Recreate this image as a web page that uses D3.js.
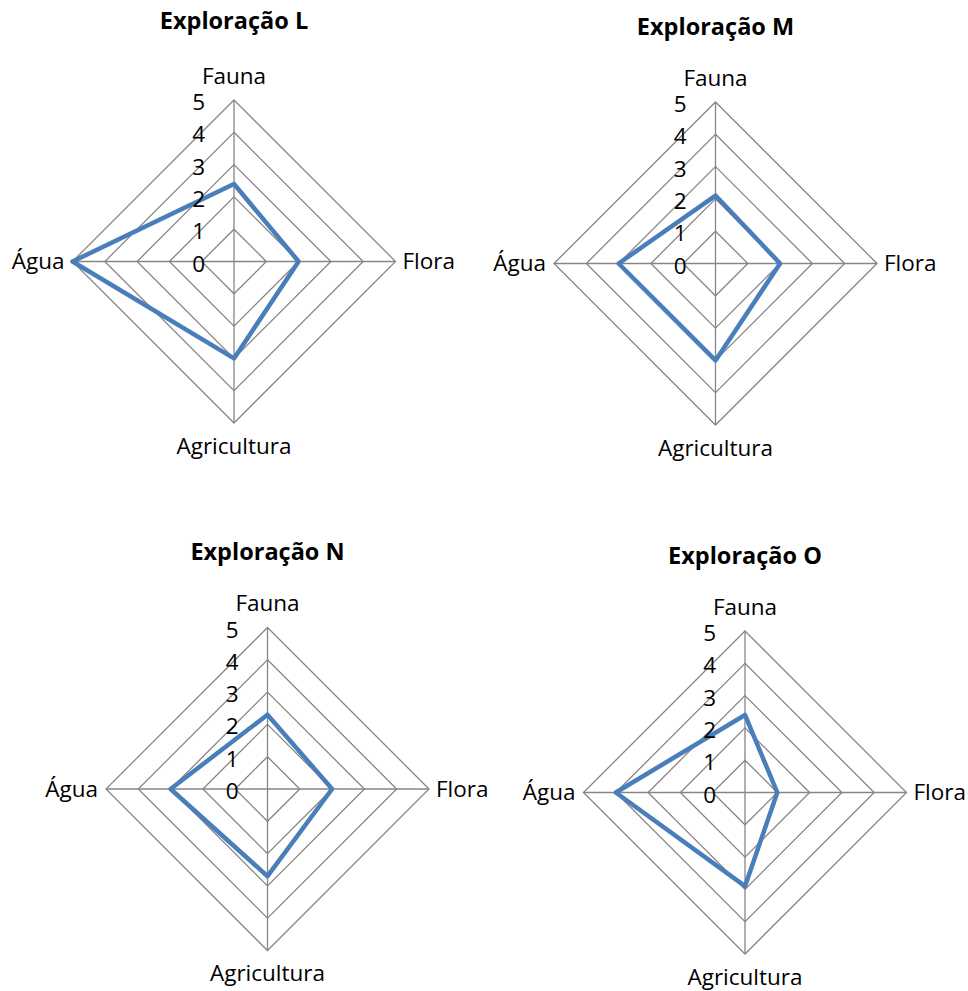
<!DOCTYPE html>
<html>
<head>
<meta charset="utf-8">
<script src="https://cdnjs.cloudflare.com/ajax/libs/d3/7.8.5/d3.min.js"></script>
<style>
  html, body { margin: 0; padding: 0; background: #ffffff; }
  svg { display: block; font-family: "Open Sans", "Noto Sans", sans-serif; }
</style>
</head>
<body>
<svg id="chart" width="968" height="991"></svg>
<script>
// Axes of each radar, clockwise from the top
const categories = ["Fauna", "Flora", "Agricultura", "Água"];
const titles = ["Exploração L", "Exploração M", "Exploração N", "Exploração O"];
const tickValues = [0, 1, 2, 3, 4, 5];

// Scores per exploration, in the order of `categories`
const valuesL = [2.4, 2, 3, 5];
const valuesM = [2.1, 2, 3, 3];
const valuesN = [2.3, 2, 2.7, 3];
const valuesO = [2.4, 1, 2.9, 4];
const seriesValues = [valuesL, valuesM, valuesN, valuesO];

// Panel layout: radar centre and title baseline
const panels = [
  { cx: 234, cy: 261.5, titleY: 29 },
  { cx: 715.5, cy: 263.5, titleY: 35 },
  { cx: 267.5, cy: 789, titleY: 560 },
  { cx: 745, cy: 792.5, titleY: 564 }
];

const R = 161.5;
const gridColor = "#868686";
const lineColor = "#4a7ebb";
const labelSize = 22.5;

const svg = d3.select("#chart");
const r = d3.scaleLinear().domain([0, 5]).range([0, R]);
const angle = d3.scalePoint().domain(categories).range([0, 2 * Math.PI * 3 / 4]);

function pt(cat, v) {
  const a = angle(cat);
  return [r(v) * Math.sin(a), -r(v) * Math.cos(a)];
}

panels.forEach((p, i) => {
  const g = svg.append("g").attr("transform", `translate(${p.cx},${p.cy})`);

  // Title
  svg.append("text")
    .attr("x", p.cx).attr("y", p.titleY)
    .attr("text-anchor", "middle")
    .attr("font-weight", "bold")
    .attr("font-size", 23.5)
    .attr("fill", "#000")
    .text(titles[i]);

  // Concentric rings (diamonds)
  const ring = d3.line().curve(d3.curveLinearClosed);
  g.selectAll("path.ring")
    .data(tickValues.filter(t => t > 0))
    .join("path")
    .attr("class", "ring")
    .attr("d", t => ring(categories.map(c => pt(c, t))))
    .attr("fill", "none")
    .attr("stroke", gridColor)
    .attr("stroke-width", 1.3);

  // Spokes
  g.selectAll("line.spoke")
    .data(categories)
    .join("line")
    .attr("class", "spoke")
    .attr("x1", 0).attr("y1", 0)
    .attr("x2", c => pt(c, 5)[0])
    .attr("y2", c => pt(c, 5)[1])
    .attr("stroke", gridColor)
    .attr("stroke-width", 1.3);

  // Series polygon
  const vals = seriesValues[i];
  const radial = d3.lineRadial()
    .angle((d, j) => angle(categories[j]))
    .radius(d => r(d))
    .curve(d3.curveLinearClosed);
  g.append("path")
    .attr("d", radial(vals))
    .attr("fill", "none")
    .attr("stroke", lineColor)
    .attr("stroke-width", 4.5)
    .attr("stroke-linejoin", "round");

  // Value tick labels along the top spoke
  g.selectAll("text.tick")
    .data(tickValues)
    .join("text")
    .attr("class", "tick")
    .attr("x", -29)
    .attr("y", t => -r(t) + 10)
    .attr("text-anchor", "end")
    .attr("font-size", labelSize)
    .attr("fill", "#000")
    .text(t => t);

  // Category labels
  const labelPos = {
    "Fauna":       { x: 0, y: -R - 16.5, anchor: "middle" },
    "Flora":       { x: R + 7, y: 7.5, anchor: "start" },
    "Agricultura": { x: 0, y: R + 30.5, anchor: "middle" },
    "Água":        { x: -R - 8, y: 7.5, anchor: "end" }
  };
  g.selectAll("text.cat")
    .data(categories)
    .join("text")
    .attr("class", "cat")
    .attr("x", c => labelPos[c].x)
    .attr("y", c => labelPos[c].y)
    .attr("text-anchor", c => labelPos[c].anchor)
    .attr("font-size", labelSize)
    .attr("fill", "#000")
    .text(c => c);
});
</script>
</body>
</html>
